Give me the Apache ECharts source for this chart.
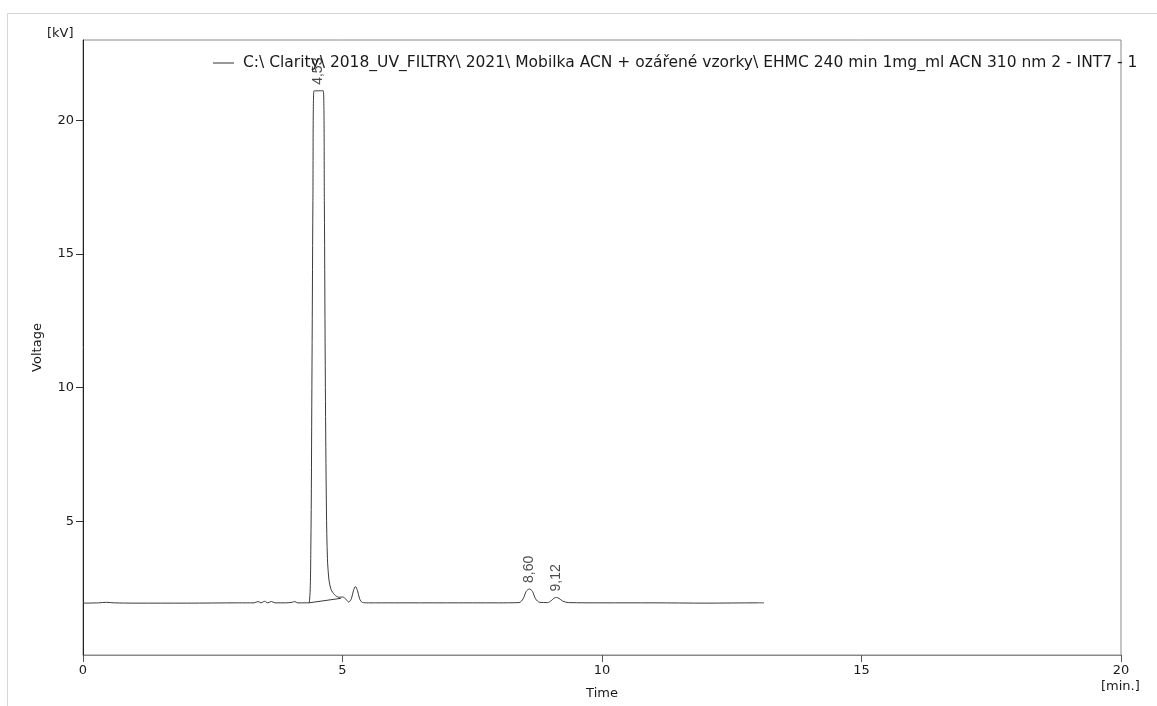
<!DOCTYPE html>
<html>
<head>
<meta charset="utf-8">
<script src="https://cdn.jsdelivr.net/npm/echarts@6/dist/echarts.min.js"></script>
<style>html,body{margin:0;padding:0;background:#fff}#c{width:1157px;height:706px}</style>
</head>
<body>
<div id="c"></div>
<script>
const seriesName = 'C:\\ Clarity\\ 2018_UV_FILTRY\\ 2021\\ Mobilka ACN + ozářené vzorky\\ EHMC 240 min 1mg_ml ACN 310 nm 2 - INT7 - 1';
const times = [0,0.3,0.45,0.6,1.0,2.0,3.0,3.3,3.37,3.43,3.5,3.56,3.63,3.7,3.9,4.03,4.08,4.13,4.3,4.36,4.39,4.41,4.43,4.45,4.63,4.65,4.67,4.69,4.71,4.74,4.78,4.85,4.93,5.0,5.06,5.12,5.17,5.21,5.25,5.29,5.33,5.38,5.5,6,7,8,8.4,8.48,8.54,8.6,8.66,8.72,8.8,8.95,9.02,9.08,9.12,9.17,9.24,9.35,10,11,12,13,13.12];
const voltage = [1.94,1.95,1.97,1.95,1.94,1.94,1.95,1.95,2.0,1.95,2.01,1.95,2.0,1.95,1.95,1.97,2.0,1.95,1.95,1.97,4,10,17,21.1,21.1,17,10,5.5,3.6,2.8,2.45,2.25,2.16,2.17,2.1,1.98,2.1,2.4,2.56,2.4,2.1,1.97,1.95,1.95,1.95,1.95,1.96,2.1,2.38,2.47,2.38,2.1,1.97,1.96,2.03,2.13,2.15,2.12,2.02,1.96,1.95,1.95,1.94,1.95,1.95];
const baseTimes = [4.35, 4.97];
const baseVolt = [1.95, 2.12];
const peakTimes = [4.53, 8.60, 9.12];
const peakVolt = [21.1, 2.47, 2.15];
const peakLabels = ['4,53', '8,60', '9,12'];

const chart = echarts.init(document.getElementById('c'));
const txt = '#1a1a1a';
chart.setOption({
  animation: false,
  grid: {left: 83, top: 40, right: 36, bottom: 51, show: true, borderColor: '#8a8a8a', borderWidth: 1},
  legend: {
    left: 208, top: 50, itemWidth: 21, itemHeight: 2, itemGap: 10,
    data: [{name: seriesName, icon: 'path://M0,0H20V1H0Z'}],
    textStyle: {fontFamily: 'DejaVu Sans', fontSize: 15.5, color: txt, padding: [0, 0, 0, 4]}
  },
  xAxis: {
    type: 'value', min: 0, max: 20, interval: 5,
    name: 'Time', nameLocation: 'middle', nameGap: 32,
    nameTextStyle: {fontFamily: 'DejaVu Sans', fontSize: 13, color: txt},
    axisLine: {show: true, lineStyle: {color: '#8a8a8a'}},
    axisTick: {show: true, length: 7, lineStyle: {color: '#555'}},
    axisLabel: {fontFamily: 'DejaVu Sans', fontSize: 13, color: txt, margin: 9},
    splitLine: {show: false}
  },
  yAxis: {
    type: 'value', min: 0, max: 23, interval: 5,
    name: 'Voltage', nameLocation: 'middle', nameGap: 39, nameRotate: 90,
    nameTextStyle: {fontFamily: 'DejaVu Sans', fontSize: 13, color: txt},
    axisLine: {show: true, lineStyle: {color: '#222'}},
    axisTick: {show: true, length: 7, lineStyle: {color: '#333'}},
    axisLabel: {fontFamily: 'DejaVu Sans', fontSize: 13, color: txt, margin: 9,
      showMinLabel: false, showMaxLabel: false,
      formatter: v => (v === 0 ? '' : String(v))},
    splitLine: {show: false}
  },
  graphic: [
    {type: 'rect', silent: true, shape: {x: 7.5, y: 13.5, width: 1160, height: 700}, style: {fill: 'none', stroke: '#d6d6d6', lineWidth: 1}},
    {type: 'text', left: 47, top: 27, style: {text: '[kV]', fontFamily: 'DejaVu Sans', fontSize: 13, fill: txt}},
    {type: 'text', left: 1101, top: 680, style: {text: '[min.]', fontFamily: 'DejaVu Sans', fontSize: 13, fill: txt}}
  ],
  series: [
    {
      name: seriesName, type: 'line', symbol: 'none', smooth: 0.3,
      lineStyle: {color: '#3a3a3a', width: 1}, itemStyle: {color: '#3a3a3a'},
      data: times.map((t, i) => [t, voltage[i]])
    },
    {
      name: 'baseline', type: 'line', symbol: 'none',
      lineStyle: {color: '#3a3a3a', width: 1},
      data: baseTimes.map((t, i) => [t, baseVolt[i]])
    },
    {
      name: 'peaks', type: 'scatter', symbolSize: 0, z: 5,
      label: {show: true, position: 'top', distance: 6, rotate: 90, align: 'left', verticalAlign: 'middle',
        fontFamily: 'Liberation Sans', fontSize: 14, color: txt,
        formatter: p => peakLabels[p.dataIndex]},
      data: peakTimes.map((t, i) => [t, peakVolt[i]])
    }
  ]
});
</script>
</body>
</html>
